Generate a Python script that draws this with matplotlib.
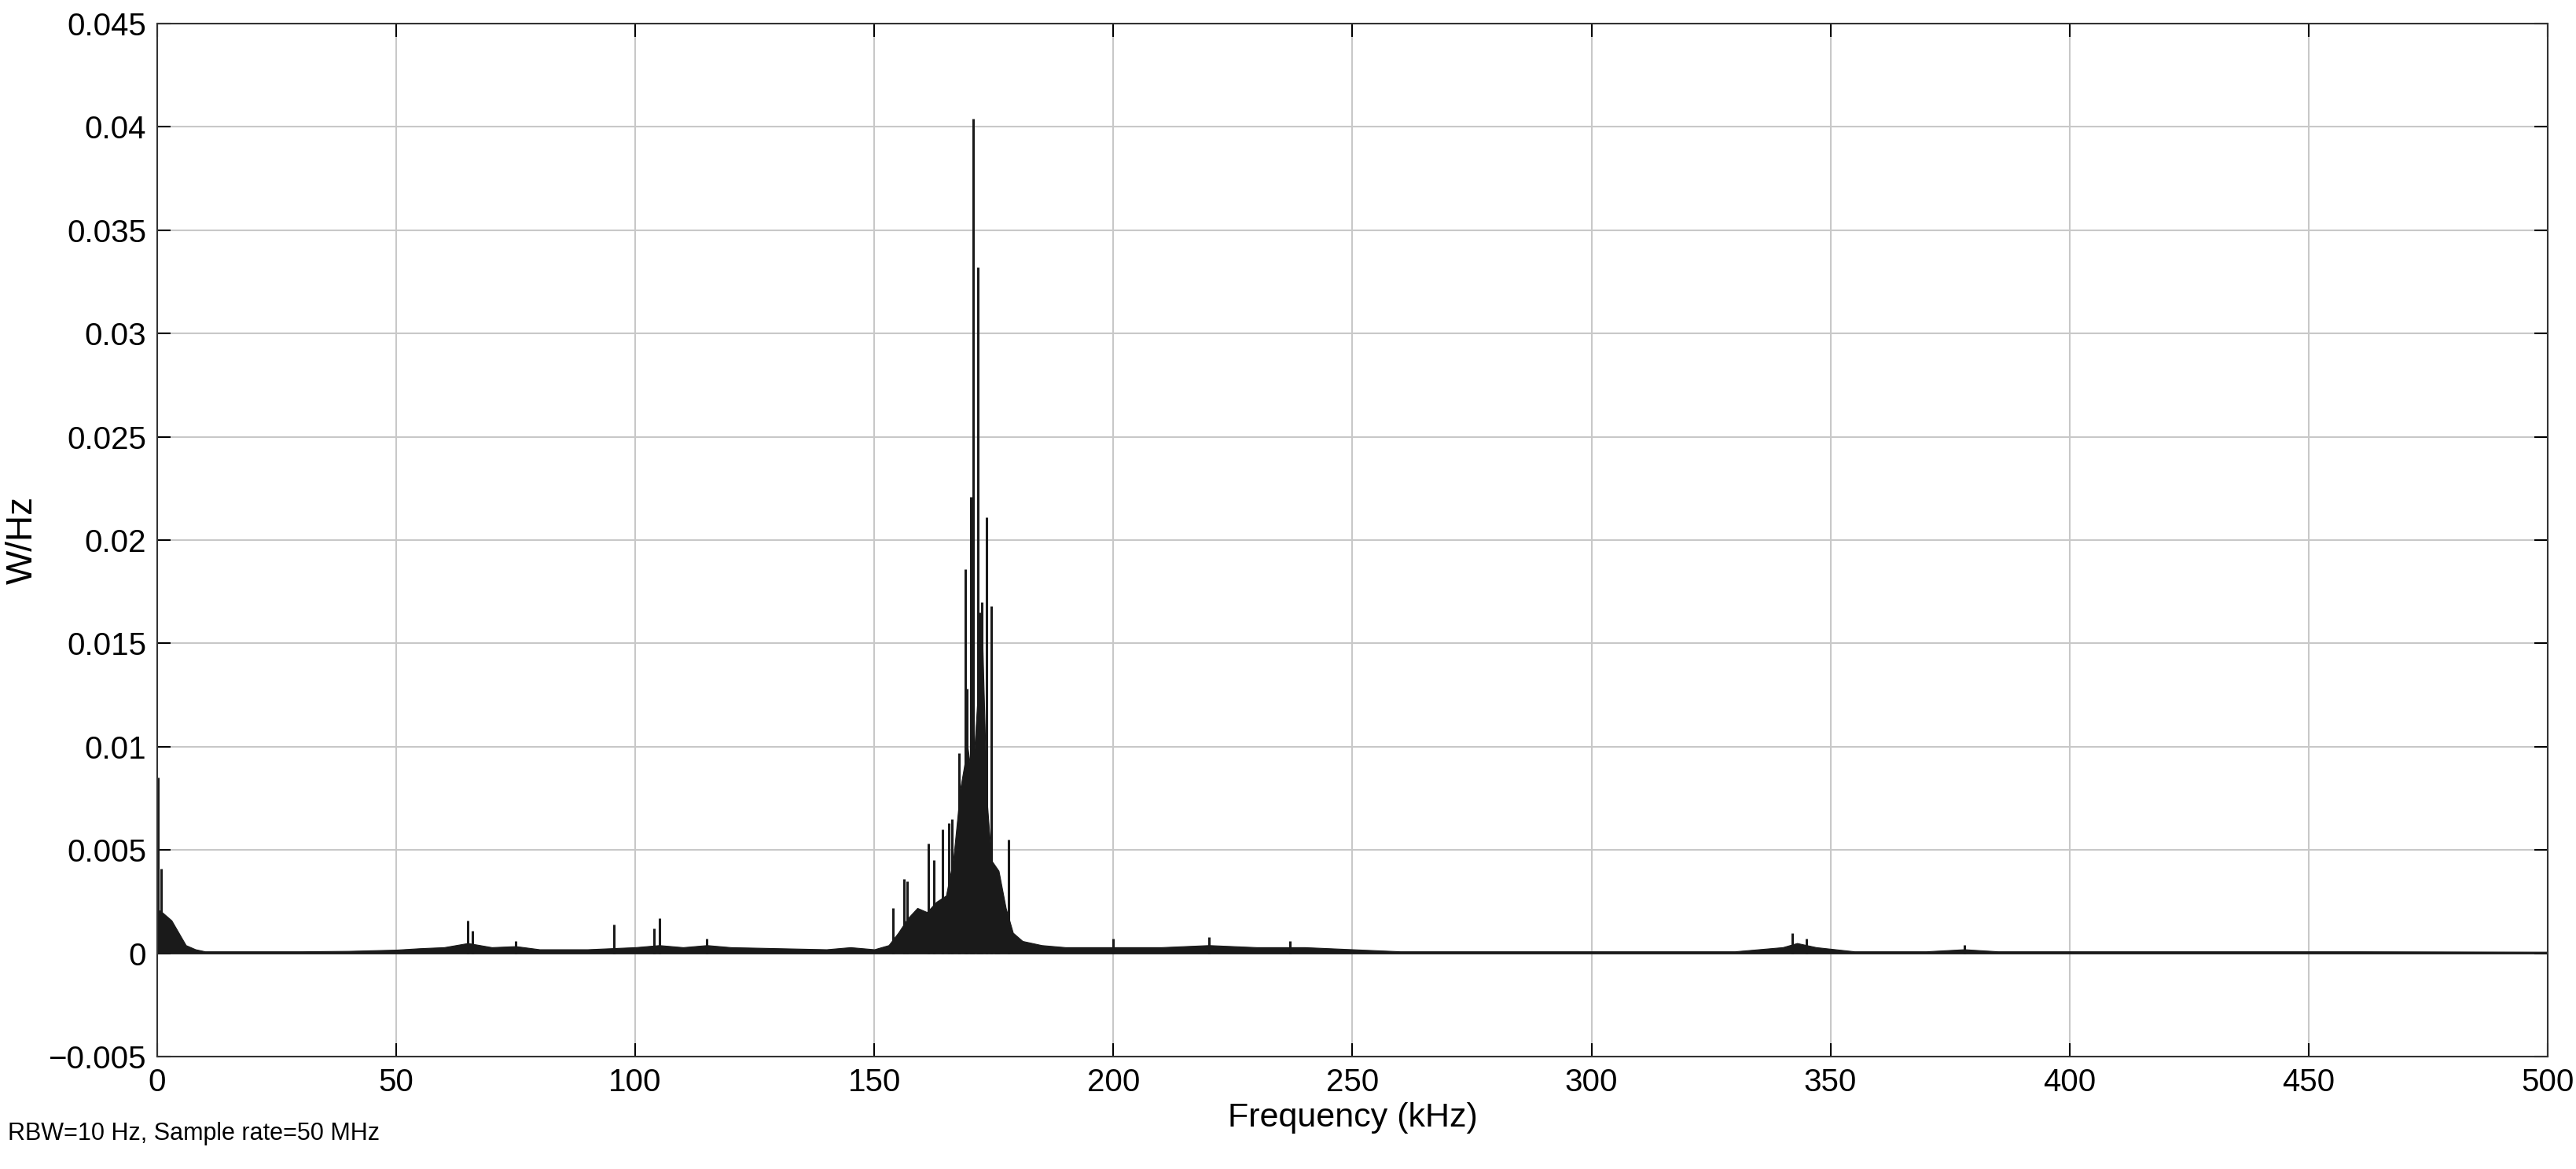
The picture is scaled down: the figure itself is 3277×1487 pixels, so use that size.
import matplotlib
matplotlib.use("Agg")
import matplotlib.pyplot as plt
import numpy as np

plt.rcParams["font.family"] = ["Liberation Sans", "DejaVu Sans"]

# envelope of the dense spectrum (kHz, W/Hz)
env_f = [0, 0.3, 1, 2, 3, 4, 5, 6, 8, 10, 20, 30, 40, 50, 55, 60, 65, 70, 75, 80, 90, 95, 100, 105,
         110, 115, 120, 130, 140, 145, 150, 153, 155, 157, 159, 161, 163, 165, 166.5, 168, 169.5,
         170.5, 171.5, 172.5, 173.5, 174.5, 176, 177.5, 179, 181, 185, 190, 195, 200, 210, 220,
         230, 240, 250, 260, 300, 330, 340, 343, 347, 355, 370, 378, 385, 420, 460, 500]
env_v = [0.0025, 0.0021, 0.002, 0.0018, 0.0016, 0.0012, 0.0008, 0.0004, 0.0002, 0.0001, 0.0001,
         0.0001, 0.00012, 0.00018, 0.00025, 0.0003, 0.0005, 0.0003, 0.00035, 0.0002, 0.0002, 0.00025,
         0.0003, 0.0004, 0.0003, 0.0004, 0.0003, 0.00025, 0.0002, 0.0003, 0.0002, 0.0004, 0.001,
         0.0017, 0.0022, 0.002, 0.0025, 0.0028, 0.0045, 0.008, 0.01, 0.0083, 0.012, 0.016, 0.0075,
         0.0045, 0.004, 0.0022, 0.001, 0.0006, 0.0004, 0.0003, 0.0003, 0.0003, 0.0003, 0.0004,
         0.0003, 0.0003, 0.0002, 0.0001, 0.0001, 0.0001, 0.0003, 0.0005, 0.0003, 0.0001, 0.0001,
         0.0002, 0.0001, 0.0001, 0.0001, 0.00008]

# individual spikes above the envelope
spk_f = [0.2, 0.8, 65, 66, 75, 95.5, 104, 105, 115, 153.9, 156.2, 156.9, 161.3, 162.5, 164.3,
         165.6, 166.2, 167.8, 169.0, 169.3, 170.2, 170.7, 171.6, 172.0, 172.5, 173.4, 174.4,
         175.5, 176.0, 178.0, 200, 220, 237, 342, 345, 378]
spk_v = [0.0085, 0.0041, 0.0016, 0.0011, 0.0006, 0.0014, 0.0012, 0.0017, 0.0007, 0.0022, 0.0036,
         0.0035, 0.0053, 0.0045, 0.006, 0.0063, 0.0065, 0.0097, 0.0186, 0.0128, 0.0221, 0.0404,
         0.0332, 0.0165, 0.017, 0.0211, 0.0168, 0.004, 0.0038, 0.0055, 0.0007, 0.0008, 0.0006,
         0.001, 0.0007, 0.0004]

fig = plt.figure(figsize=(32.77, 14.87), dpi=100)
ax = fig.add_axes([0.061, 0.096, 0.928, 0.884])

ax.fill_between(env_f, 0, env_v, color="#1a1a1a", lw=0.8)
ax.vlines(spk_f, 0, spk_v, color="#1a1a1a", lw=2.2)
ax.axhline(0, color="#555555", lw=1.2, zorder=0)

ax.set_xlim(0, 500)
ax.set_ylim(-0.005, 0.045)
ax.set_xticks(np.arange(0, 501, 50))
ax.set_yticks(np.arange(-0.005, 0.0451, 0.005))
ax.set_yticklabels(["\u22120.005", "0", "0.005", "0.01", "0.015", "0.02", "0.025", "0.03",
                    "0.035", "0.04", "0.045"])
ax.grid(True, color="#c8c8c8", lw=1.5)
ax.set_axisbelow(True)
ax.tick_params(direction="in", length=12, width=1.5, labelsize=29, top=True, right=True, pad=10)
for s in ax.spines.values():
    s.set_linewidth(1.5)
    s.set_color("#333333")
ax.set_xlabel("Frequency (kHz)", fontsize=31, labelpad=4)
ax.set_ylabel("W/Hz", fontsize=33, labelpad=8)
fig.text(0.003, 0.03, "RBW=10 Hz, Sample rate=50 MHz", fontsize=22, ha="left", va="center")

fig.savefig("out.png", dpi=100)
